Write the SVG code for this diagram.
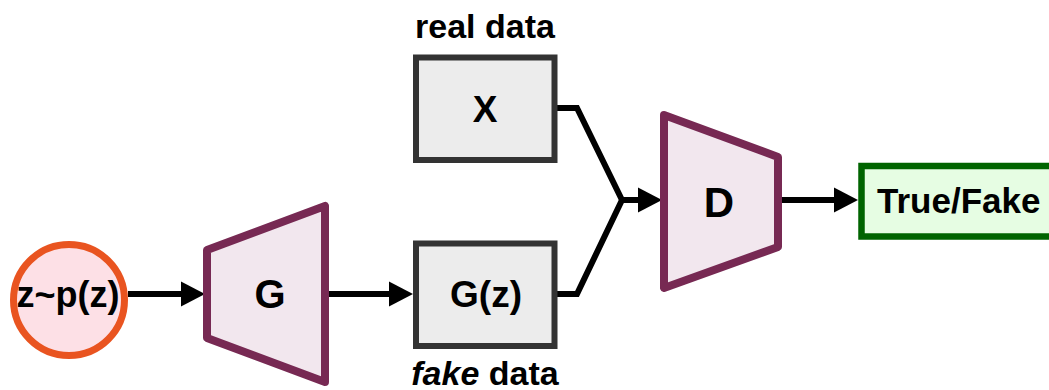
<svg xmlns="http://www.w3.org/2000/svg" width="1049" height="390" viewBox="0 0 1049 390">
<style>
text{font-family:"Liberation Sans",Arial,sans-serif;font-weight:bold;fill:#000;}
.lbl{font-size:34px;text-anchor:middle;}
.trap{fill:#f2e7ee;stroke:#772953;stroke-width:8;stroke-linejoin:round;}
.box{fill:#ececec;stroke:#333333;stroke-width:6;}
.conn{fill:none;stroke:#000;stroke-width:6;stroke-linejoin:miter;}
</style>
<defs>
<marker id="ah" markerUnits="userSpaceOnUse" markerWidth="26" markerHeight="26" refX="0" refY="12.5" orient="auto" overflow="visible">
<path d="M0,0 L24,12.5 L0,25 z" fill="#000"/>
</marker>
</defs>
<rect width="1049" height="390" fill="#fff"/>
<g id="connectors">
<line class="conn" x1="128" y1="294" x2="181" y2="294" marker-end="url(#ah)"/>
<line class="conn" x1="325" y1="294" x2="389" y2="294" marker-end="url(#ah)"/>
<polyline class="conn" points="555,108 577,108 622,200"/>
<polyline class="conn" points="555,294 577,294 622,200"/>
<line class="conn" x1="620" y1="200" x2="638" y2="200" marker-end="url(#ah)"/>
<line class="conn" x1="778" y1="200" x2="834" y2="200" marker-end="url(#ah)"/>
</g>
<g id="z">
<circle cx="69" cy="300" r="55.5" fill="#fde0e6" stroke="#e95420" stroke-width="7"/>
<text class="lbl" x="68" y="307" style="font-size:36px">z~p(z)</text>
</g>
<g id="G">
<polygon class="trap" points="207,250 325,206 325,382 207,338"/>
<text class="lbl" x="270" y="308" style="font-size:40px">G</text>
</g>
<g id="X">
<rect class="box" x="416" y="57.5" width="138.5" height="102.5"/>
<text class="lbl" x="485" y="122" style="font-size:37px">X</text>
</g>
<g id="real-label">
<text class="lbl" x="485" y="38">real data</text>
</g>
<g id="Gz">
<rect class="box" x="416" y="243.5" width="138.5" height="102.5"/>
<text class="lbl" x="486" y="307" style="font-size:37px">G(z)</text>
</g>
<g id="fake-label">
<text class="lbl" x="485" y="385"><tspan font-style="italic">fake</tspan> data</text>
</g>
<g id="D">
<polygon class="trap" points="664,115 778,157 778,247 664,288"/>
<text class="lbl" x="719" y="217" style="font-size:42px">D</text>
</g>
<g id="out">
<rect x="861.5" y="166" width="200" height="70.5" fill="#e6fde3" stroke="#006400" stroke-width="6.5"/>
<text x="877" y="213" style="font-size:35px">True/Fake</text>
</g>
</svg>
